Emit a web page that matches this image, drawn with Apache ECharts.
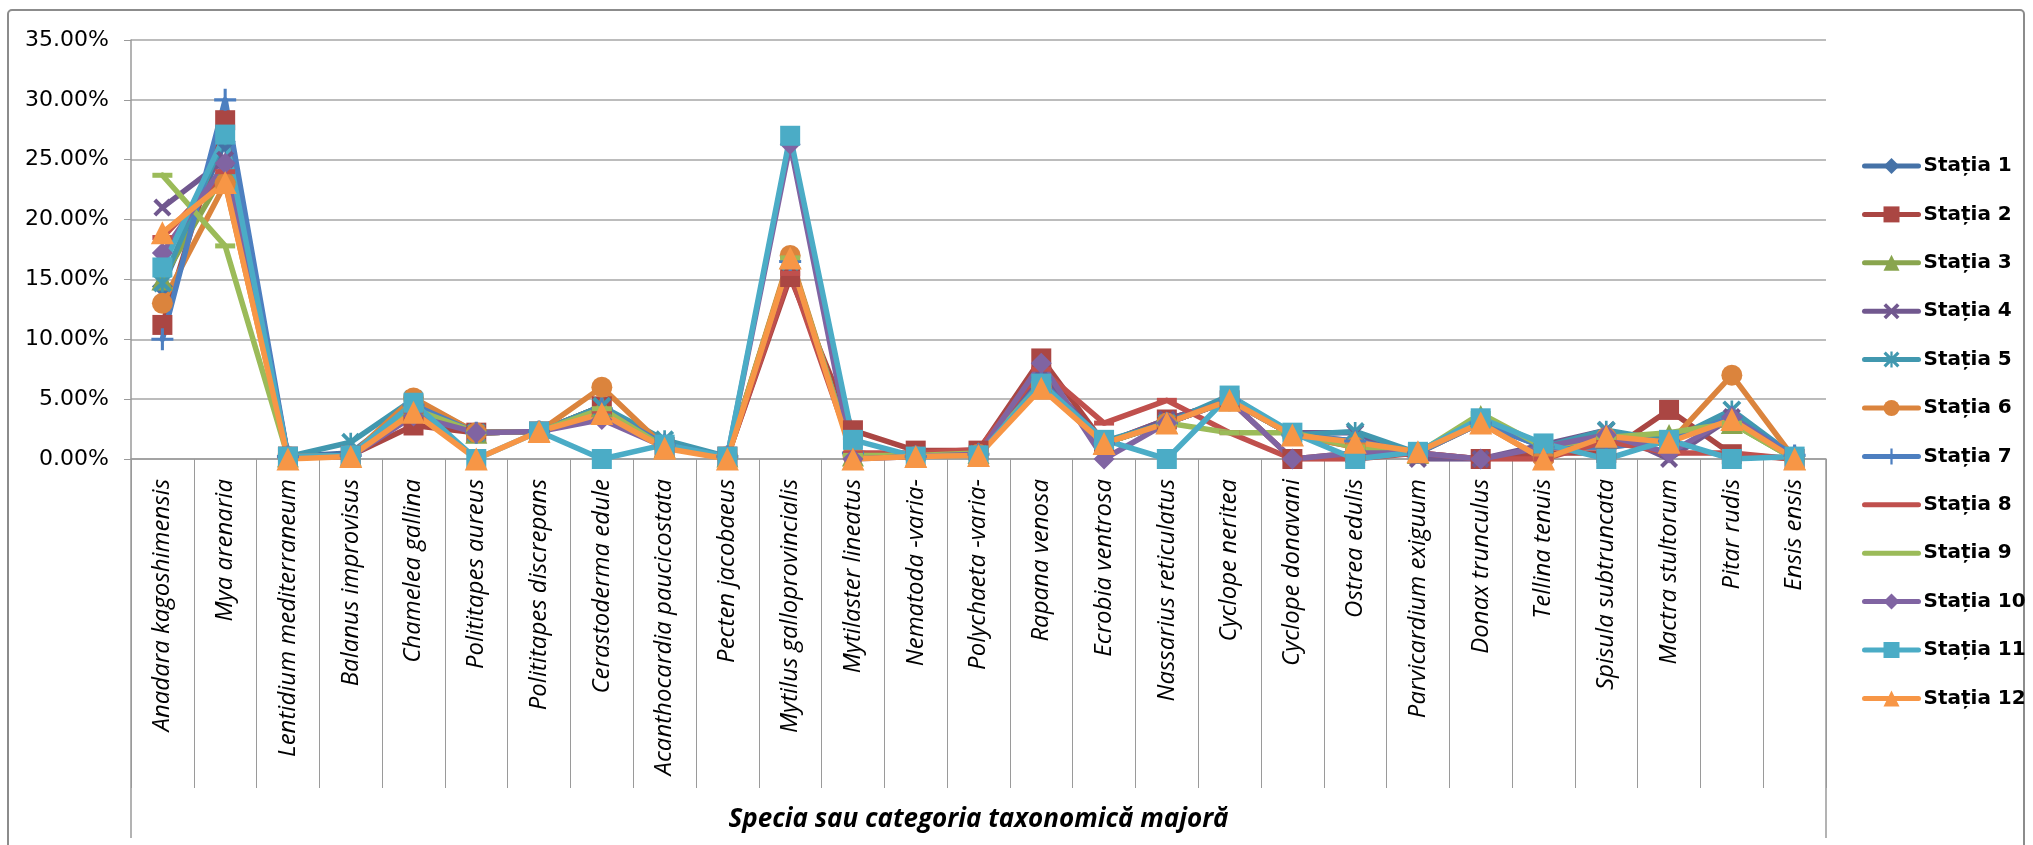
<!DOCTYPE html>
<html>
<head>
<meta charset="utf-8">
<title>Abundența relativă pe stații</title>
<script src="https://cdn.jsdelivr.net/npm/echarts@6/dist/echarts.min.js"></script>
<style>
  html, body { margin: 0; padding: 0; background: #ffffff; }
  #chart { width: 2033px; height: 845px; }
</style>
</head>
<body>
<div id="chart"></div>
<script>
// Species / major taxonomic categories on the x axis
const categories = [
  'Anadara kagoshimensis', 'Mya arenaria', 'Lentidium mediterraneum', 'Balanus improvisus',
  'Chamelea gallina', 'Polititapes aureus', 'Polititapes discrepans', 'Cerastoderma edule',
  'Acanthocardia paucicostata', 'Pecten jacobaeus', 'Mytilus galloprovincialis', 'Mytilaster lineatus',
  'Nematoda -varia-', 'Polychaeta -varia-', 'Rapana venosa', 'Ecrobia ventrosa',
  'Nassarius reticulatus', 'Cyclope neritea', 'Cyclope donavani', 'Ostrea edulis',
  'Parvicardium exiguum', 'Donax trunculus', 'Tellina tenuis', 'Spisula subtruncata',
  'Mactra stultorum', 'Pitar rudis', 'Ensis ensis'
];

// Y axis ticks (percent)
const yTicks = [0, 5, 10, 15, 20, 25, 30, 35];

// Relative abundance (%) per station
const statia1  = [14.4, 26.5, 0.2, 0.5, 4.5, 2.2, 2.3, 4.2, 1.2, 0.2, 16.5, 0.5, 0.2, 0.4, 6.8, 1.3, 3.0, 4.9, 2.0, 1.5, 0.5, 3.0, 1.0, 1.0, 1.5, 3.5, 0.3];
const statia2  = [11.2, 28.3, 0.2, 0.3, 2.8, 2.2, 2.3, 4.4, 1.0, 0.2, 15.2, 2.4, 0.7, 0.7, 8.4, 1.3, 3.3, 4.9, 0.0, 0.5, 0.5, 0.0, 0.5, 0.5, 4.1, 0.4, 0.0];
const statia3  = [15.0, 24.0, 0.2, 0.3, 4.5, 2.2, 2.3, 4.4, 1.0, 0.2, 16.8, 0.3, 0.2, 0.5, 6.5, 1.3, 3.0, 4.9, 2.0, 1.0, 0.5, 3.6, 1.0, 1.8, 2.0, 3.0, 0.0];
const statia4  = [21.0, 25.0, 0.2, 0.2, 4.5, 2.2, 2.3, 4.4, 1.0, 0.2, 16.5, 0.3, 0.2, 0.4, 7.0, 1.3, 3.3, 4.9, 2.2, 2.2, 0.0, 0.0, 1.2, 2.4, 0.0, 3.5, 0.0];
const statia5  = [14.7, 27.0, 0.2, 1.4, 5.0, 2.2, 2.3, 4.4, 1.6, 0.2, 16.5, 0.5, 0.2, 0.4, 6.3, 1.5, 3.0, 5.3, 2.0, 2.3, 0.5, 3.2, 1.0, 2.4, 1.5, 4.1, 0.2];
const statia6  = [13.0, 23.0, 0.2, 0.3, 5.1, 2.2, 2.3, 6.0, 1.0, 0.2, 17.0, 0.3, 0.2, 0.4, 6.0, 1.3, 3.0, 4.9, 2.0, 1.0, 0.5, 3.0, 0.0, 1.8, 1.3, 7.0, 0.0];
const statia7  = [10.0, 30.0, 0.2, 0.3, 4.5, 2.2, 2.3, 4.2, 1.2, 0.2, 16.5, 0.5, 0.2, 0.4, 6.5, 1.3, 3.0, 4.9, 2.0, 1.5, 0.5, 3.0, 1.0, 1.0, 1.5, 3.5, 0.3];
const statia8  = [18.5, 24.0, 0.2, 0.3, 4.0, 2.2, 2.3, 4.0, 1.0, 0.2, 15.5, 0.5, 0.5, 0.8, 7.5, 3.0, 4.9, 2.2, 0.0, 0.0, 0.5, 0.0, 0.0, 1.5, 0.5, 0.5, 0.0];
const statia9  = [23.7, 17.8, 0.2, 0.3, 4.2, 2.2, 2.3, 4.2, 1.0, 0.2, 16.8, 0.3, 0.3, 0.5, 6.3, 1.3, 3.0, 2.2, 2.2, 1.0, 0.5, 3.8, 1.0, 1.8, 2.2, 3.0, 0.0];
const statia10 = [17.2, 24.7, 0.2, 0.2, 3.6, 2.2, 2.3, 3.3, 1.0, 0.2, 26.3, 0.0, 0.2, 0.4, 8.0, 0.0, 3.0, 4.9, 0.0, 0.5, 0.5, 0.0, 1.0, 2.0, 0.5, 3.5, 0.0];
const statia11 = [16.0, 27.1, 0.2, 0.3, 4.7, 0.0, 2.3, 0.0, 1.2, 0.2, 27.0, 1.6, 0.2, 0.3, 6.3, 1.6, 0.0, 5.3, 2.2, 0.0, 0.6, 3.4, 1.3, 0.0, 1.6, 0.0, 0.2];
const statia12 = [18.9, 23.1, 0.0, 0.2, 3.9, 0.0, 2.3, 3.8, 0.9, 0.0, 16.8, 0.0, 0.2, 0.3, 5.9, 1.3, 3.0, 4.9, 2.0, 1.4, 0.6, 3.0, 0.0, 1.9, 1.4, 3.3, 0.0];

const stationNames = ['Stația 1', 'Stația 2', 'Stația 3', 'Stația 4', 'Stația 5', 'Stația 6',
                      'Stația 7', 'Stația 8', 'Stația 9', 'Stația 10', 'Stația 11', 'Stația 12'];
const stationValues = [statia1, statia2, statia3, statia4, statia5, statia6,
                       statia7, statia8, statia9, statia10, statia11, statia12];

// Marker shapes
const SYM_X = 'path://M0,1.6 L1.6,0 L10,8.4 L8.4,10 Z M8.4,0 L10,1.6 L1.6,10 L0,8.4 Z';
const SYM_STAR = 'path://M0,1.4 L1.4,0 L10,8.6 L8.6,10 Z M8.6,0 L10,1.4 L1.4,10 L0,8.6 Z M4.3,0 H5.7 V10 H4.3 Z';
const SYM_PLUS = 'path://M4.3,0 H5.7 V10 H4.3 Z M0,4.3 H10 V5.7 H0 Z';
const SYM_DASH = 'path://M0,0 H10 V2.4 H0 Z';

const styles = [
  { color: '#4572A7', symbol: 'diamond',  size: 21 },
  { color: '#AA4643', symbol: 'rect',     size: 20 },
  { color: '#89A54E', symbol: 'triangle', size: 22 },
  { color: '#71588F', symbol: SYM_X,      size: 18 },
  { color: '#4198AF', symbol: SYM_STAR,   size: 19 },
  { color: '#DB843D', symbol: 'circle',   size: 21 },
  { color: '#4D7FC0', symbol: SYM_PLUS,   size: 22 },
  { color: '#C0504D', symbol: SYM_DASH,   size: [20, 5] },
  { color: '#9BBB59', symbol: SYM_DASH,   size: [20, 5] },
  { color: '#8064A2', symbol: 'diamond',  size: 21 },
  { color: '#4BACC6', symbol: 'rect',     size: 20 },
  { color: '#F79646', symbol: 'triangle', size: 23 }
];

const series = stationNames.map((name, i) => ({
  name: name,
  type: 'line',
  data: stationValues[i],
  symbol: styles[i].symbol,
  symbolSize: styles[i].size,
  showAllSymbol: true,
  itemStyle: { color: styles[i].color, borderWidth: 0 },
  lineStyle: { color: styles[i].color, width: 5.5, join: 'round', cap: 'round' },
  emphasis: { disabled: true },
  animation: false
}));

// Legend entries; stations 8 and 9 use a dash marker that merges into the line
const legendData = stationNames.map((name, i) => (
  (i === 7 || i === 8) ? { name: name, itemStyle: { opacity: 0 } } : { name: name }
));

const chart = echarts.init(document.getElementById('chart'), null, { renderer: 'canvas' });

const plotLeft = 131, plotRight = 1826, plotTop = 40, plotBottom = 459;

chart.setOption({
  backgroundColor: '#ffffff',
  animation: false,
  grid: {
    left: plotLeft,
    right: 2033 - plotRight,
    top: plotTop,
    bottom: 845 - plotBottom,
    containLabel: false
  },
  legend: {
    orient: 'vertical',
    left: 1857,
    top: 151,
    itemWidth: 54,
    itemHeight: 20,
    itemGap: 28.4,
    data: legendData,
    lineStyle: { width: 5 },
    textStyle: {
      fontFamily: 'DejaVu Sans',
      fontWeight: 'bold',
      fontSize: 20,
      color: '#000000',
      lineHeight: 20
    },
    selectedMode: false
  },
  xAxis: {
    type: 'category',
    data: categories,
    boundaryGap: true,
    name: 'Specia sau categoria taxonomică majoră',
    nameLocation: 'middle',
    nameGap: 348,
    nameTextStyle: {
      fontFamily: 'Open Sans',
      fontStyle: 'italic',
      fontWeight: 'bold',
      fontSize: 26,
      color: '#000000'
    },
    axisLine: { show: true, lineStyle: { color: '#9a9a9a', width: 1.5 } },
    axisTick: { show: true, alignWithLabel: false, length: 329, lineStyle: { color: '#9a9a9a', width: 1 } },
    axisLabel: {
      interval: 0,
      rotate: 90,
      margin: 20,
      fontFamily: 'Open Sans',
      fontStyle: 'italic',
      fontSize: 24,
      color: '#000000'
    },
    splitLine: { show: false }
  },
  yAxis: {
    type: 'value',
    min: yTicks[0],
    max: yTicks[yTicks.length - 1],
    interval: yTicks[1] - yTicks[0],
    axisLine: { show: true, lineStyle: { color: '#9a9a9a', width: 1.5 } },
    axisTick: { show: true, length: 7, lineStyle: { color: '#9a9a9a' } },
    axisLabel: {
      margin: 22,
      fontFamily: 'DejaVu Sans',
      fontSize: 22,
      color: '#000000',
      formatter: v => v.toFixed(2) + '%'
    },
    splitLine: { show: true, lineStyle: { color: '#a6a6a6', width: 1.5 } }
  },
  graphic: [
    // outer chart frame
    { type: 'rect', shape: { x: 8, y: 10, width: 2016, height: 850, r: 4 },
      style: { fill: 'none', stroke: '#8c8c8c', lineWidth: 2 }, silent: true, z: -1 },
    // extended side borders of the category label band
    { type: 'line', shape: { x1: plotLeft, y1: plotBottom, x2: plotLeft, y2: 838 },
      style: { stroke: '#9a9a9a', lineWidth: 1.5 }, silent: true },
    { type: 'line', shape: { x1: plotRight, y1: plotBottom, x2: plotRight, y2: 838 },
      style: { stroke: '#9a9a9a', lineWidth: 1.5 }, silent: true }
  ],
  series: series
});
</script>
</body>
</html>
